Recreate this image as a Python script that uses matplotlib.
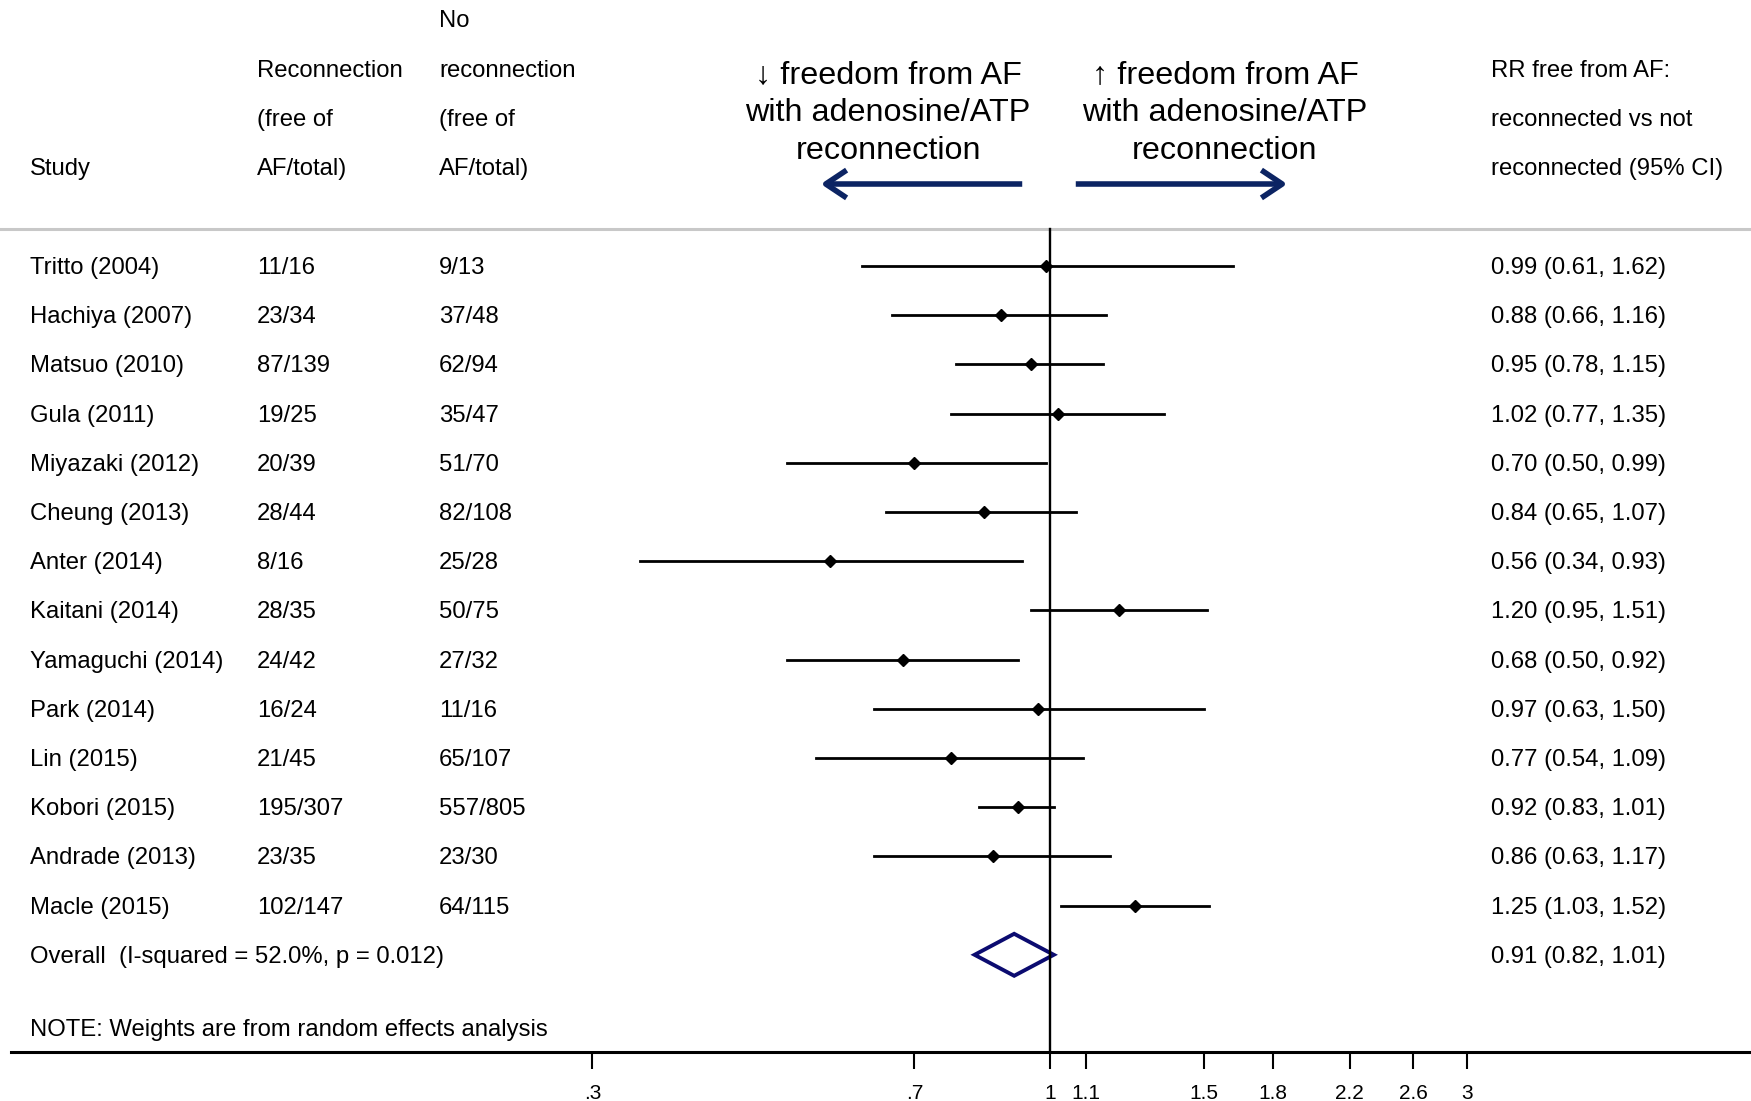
import numpy as np
import matplotlib
matplotlib.use("Agg")
import matplotlib.pyplot as plt
from matplotlib import transforms, font_manager
from matplotlib.patches import Polygon, FancyArrowPatch

# study rows
studies = ["Tritto (2004)", "Hachiya (2007)", "Matsuo (2010)", "Gula (2011)",
           "Miyazaki (2012)", "Cheung (2013)", "Anter (2014)", "Kaitani (2014)",
           "Yamaguchi (2014)", "Park (2014)", "Lin (2015)", "Kobori (2015)",
           "Andrade (2013)", "Macle (2015)"]
recon = ["11/16", "23/34", "87/139", "19/25", "20/39", "28/44", "8/16",
         "28/35", "24/42", "16/24", "21/45", "195/307", "23/35", "102/147"]
norecon = ["9/13", "37/48", "62/94", "35/47", "51/70", "82/108", "25/28",
           "50/75", "27/32", "11/16", "65/107", "557/805", "23/30", "64/115"]
rr = [0.99, 0.88, 0.95, 1.02, 0.70, 0.84, 0.56, 1.20, 0.68, 0.97, 0.77, 0.92, 0.86, 1.25]
lo = [0.61, 0.66, 0.78, 0.77, 0.50, 0.65, 0.34, 0.95, 0.50, 0.63, 0.54, 0.83, 0.63, 1.03]
hi = [1.62, 1.16, 1.15, 1.35, 0.99, 1.07, 0.93, 1.51, 0.92, 1.50, 1.09, 1.01, 1.17, 1.52]

# pooled estimate
overall_label = "Overall  (I-squared = 52.0%, p = 0.012)"
overall = [0.91, 0.82, 1.01]

ticks = [0.3, 0.7, 1, 1.1, 1.5, 1.8, 2.2, 2.6, 3]
ticklabels = [".3", ".7", "1", "1.1", "1.5", "1.8", "2.2", "2.6", "3"]

# fonts
names = {f.name for f in font_manager.fontManager.ttflist}
body = ["Liberation Sans", "DejaVu Sans"]
narrow = (["Liberation Sans Narrow"] if "Liberation Sans Narrow" in names else []) + body
plt.rcParams["font.family"] = body

W, H = 1751, 1101
fig = plt.figure(figsize=(W / 100, H / 100), dpi=100)

axis_y = 1052  # pixel row of the x axis line
ax = fig.add_axes([11 / W, (H - axis_y) / H, (W - 11) / W, axis_y / H])
# log scale: 1 sits at pixel 1050, 380 px per unit of ln
ax.set_xscale("log")
ax.set_xlim(np.exp((11 - 1050) / 380), np.exp((W - 1050) / 380))
ax.set_ylim(axis_y, 0)
for s in ["top", "left", "right"]:
    ax.spines[s].set_visible(False)
ax.spines["bottom"].set_linewidth(2.2)
ax.set_yticks([])
ax.set_xticks(ticks)
ax.set_xticklabels(ticklabels, fontfamily=narrow)
ax.xaxis.set_minor_locator(matplotlib.ticker.NullLocator())
ax.tick_params(axis="x", direction="out", length=12, width=1.5, pad=11, labelsize=15)
ax.patch.set_alpha(0)

tr = transforms.blended_transform_factory(fig.transFigure, ax.transData)
fs = 17.2

# header
row0, step = 268, 49.2
cols = [30 / W, 257 / W, 439 / W, 1491 / W]
hdr_y = [21, 71, 120, 169]
ax.text(cols[0], hdr_y[3], "Study", transform=tr, va="center", fontsize=fs)
for y, t in zip(hdr_y[1:], ["Reconnection", "(free of", "AF/total)"]):
    ax.text(cols[1], y, t, transform=tr, va="center", fontsize=fs)
for y, t in zip(hdr_y, ["No", "reconnection", "(free of", "AF/total)"]):
    ax.text(cols[2], y, t, transform=tr, va="center", fontsize=fs)
for y, t in zip(hdr_y[1:], ["RR free from AF:", "reconnected vs not", "reconnected (95% CI)"]):
    ax.text(cols[3], y, t, transform=tr, va="center", fontsize=fs)

for cx, arrow in [(888, "\u2193"), (1225, "\u2191")]:
    ax.text(cx / W, 113, arrow + " freedom from AF\nwith adenosine/ATP\nreconnection",
            transform=tr, ha="center", va="center", multialignment="center",
            fontsize=23.3, linespacing=1.36, family=narrow)
navy = "#0c2463"
for x0, x1 in [(1025, 818), (1073, 1290)]:
    fig.patches.append(FancyArrowPatch((x0 / W, 1 - 184 / H), (x1 / W, 1 - 184 / H),
                                       transform=fig.transFigure,
                                       arrowstyle="->,head_length=15,head_width=10",
                                       mutation_scale=1, lw=4, color=navy,
                                       capstyle="butt"))

# grey separator and null line
ax.plot([0, 1], [229, 229], transform=tr, color="#c8c8c8", lw=2.2, clip_on=False)
ax.plot([1, 1], [229, axis_y], color="black", lw=1.7)

# study rows
for i in range(len(studies)):
    y = row0 + i * step
    ax.text(cols[0], y, studies[i], transform=tr, va="center", fontsize=fs)
    ax.text(cols[1], y, recon[i], transform=tr, va="center", fontsize=fs)
    ax.text(cols[2], y, norecon[i], transform=tr, va="center", fontsize=fs)
    ax.text(cols[3], y, "%.2f (%.2f, %.2f)" % (rr[i], lo[i], hi[i]),
            transform=tr, va="center", fontsize=fs)
    ax.plot([lo[i], hi[i]], [y - 2, y - 2], color="black", lw=2)
    ax.plot(rr[i], y - 2, marker="D", color="black", ms=6.5)

# overall
y = row0 + len(studies) * step
ax.text(cols[0], y, overall_label, transform=tr, va="center", fontsize=fs)
ax.text(cols[3], y, "%.2f (%.2f, %.2f)" % tuple(overall), transform=tr, va="center", fontsize=fs)
h = 21
ax.add_patch(Polygon([(overall[1], y - 2), (overall[0], y - 2 - h),
                      (overall[2], y - 2), (overall[0], y - 2 + h)],
                     closed=True, fill=False, edgecolor="#0b0b70", lw=2.8, joinstyle="miter"))

ax.text(cols[0], 1030, "NOTE: Weights are from random effects analysis",
        transform=tr, va="center", fontsize=fs)

fig.savefig("out.png", dpi=100)
